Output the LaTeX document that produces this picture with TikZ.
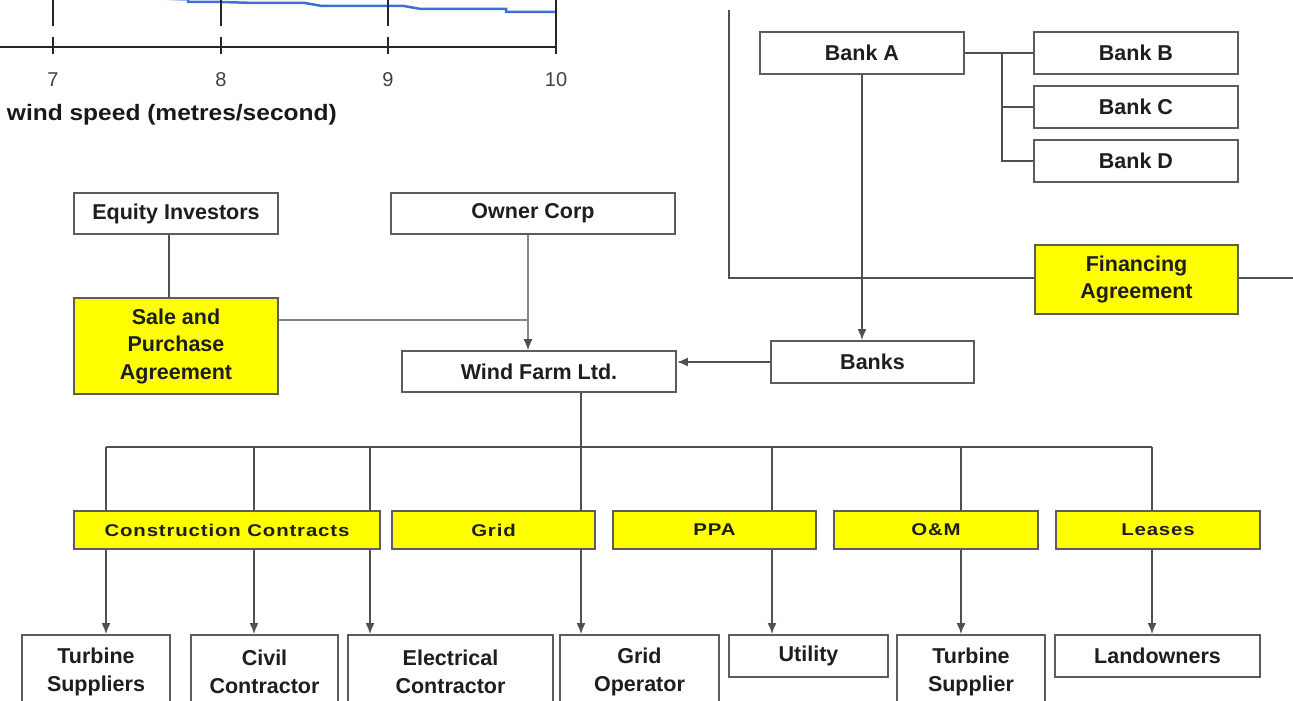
\documentclass[tikz,border=0pt]{standalone}
\usepackage{fontspec}
\setmainfont{Liberation Sans}
\newfontfamily\widesans[FakeStretch=1.2,LetterSpace=5]{Liberation Sans}
\newfontfamily\stretchsans[FakeStretch=1.1]{Liberation Sans}
\usetikzlibrary{arrows.meta}
\definecolor{ln}{HTML}{505050}
\definecolor{bd}{HTML}{5C5C5C}
\definecolor{yel}{HTML}{FFFF00}
\definecolor{txt}{HTML}{1E1E1E}
\definecolor{crv}{HTML}{3E6FD6}
\begin{document}
\begin{tikzpicture}[x=1pt,y=-1pt,
  box/.style={draw=bd, line width=1.8pt, fill=white, inner sep=0pt, text=txt,
    font=\fontsize{21.5}{27.5}\selectfont\bfseries, align=center},
  ybox/.style={box, fill=yel},
  sbox/.style={draw=bd, line width=1.8pt, fill=yel, inner sep=0pt, text=txt,
    font=\widesans\fontsize{17}{21}\selectfont\bfseries, align=center},
  con/.style={draw=ln, line width=1.8pt},
  thincon/.style={draw=ln!70, line width=1.1pt},
  arr/.style={con, -{Latex[length=11pt,width=9pt]}},
  thinarr/.style={thincon, -{Latex[length=11pt,width=9pt,color=ln]}},
  axis/.style={draw=black!85, line width=1.8pt},
  ticklbl/.style={text=black!75, font=\fontsize{20}{24}\selectfont}
]
\useasboundingbox (0,0) rectangle (1293,701);

% ---------- chart fragment ----------
\draw[crv!45, line width=2.5pt] (150,-2) -- (188,0);
\draw[crv, line width=2.5pt] (188,0) -- (188,2) -- (222,2) -- (255,3) -- (305,3) -- (322,6) -- (404,6) -- (421,9) -- (506,9) -- (506,12) -- (556,12);
\coordinate (ax0) at (0,47);
\coordinate (ax1) at (556,47);
\draw[axis] (ax0) -- (ax1);
\draw[axis] (556,0) -- (ax1);
\foreach \x in {53,221,388} { \draw[axis] (\x,0) -- (\x,26); }
\foreach \x in {53,221,388,556} { \draw[axis] (\x,37) -- (\x,54); }
\node[ticklbl] (t7) at (53,80) {7};
\node[ticklbl] (t8) at (221,80) {8};
\node[ticklbl] (t9) at (388,80) {9};
\node[ticklbl] (t10) at (556,80) {10};
\node[anchor=east, text=black!90, font=\stretchsans\fontsize{22.3}{27}\selectfont\bfseries, inner sep=0pt] (axl) at (337,115) {wind speed (metres/second)};

% ---------- nodes ----------
\node[box, minimum width=204pt, minimum height=42pt] (bankA) at (862,53) {Bank A};
\node[box, minimum width=204pt, minimum height=42pt] (bankB) at (1136,53) {Bank B};
\node[box, minimum width=204pt, minimum height=42pt] (bankC) at (1136,107) {Bank C};
\node[box, minimum width=204pt, minimum height=42pt] (bankD) at (1136,161) {Bank D};
\node[ybox, minimum width=203pt, minimum height=69pt] (fin) at (1136.5,279.5) {Financing\\Agreement};
\node[box, minimum width=203pt, minimum height=42pt] (banks) at (872.5,362) {Banks};

\node[box, minimum width=204pt, minimum height=41pt] (equity) at (176,213.5) {Equity Investors};
\node[box, minimum width=284pt, minimum height=41pt] (owner) at (533,213.5) {Owner Corp};
\node[ybox, minimum width=204pt, minimum height=96pt] (spa) at (176,346) {Sale and\\Purchase\\Agreement};
\node[box, minimum width=274pt, minimum height=41pt] (wf) at (539,371.5) {Wind Farm Ltd.};

\node[box, minimum width=148pt, minimum height=74pt] (ts) at (96,672) {Turbine\\Suppliers};
\node[box, minimum width=147pt, minimum height=74pt] (civil) at (264.5,672) {Civil\\Contractor};
\node[box, minimum width=205pt, minimum height=74pt] (elec) at (450.5,672) {Electrical\\Contractor};
\node[box, minimum width=159pt, minimum height=74pt] (gop) at (639.5,672) {Grid\\Operator};
\node[box, minimum width=159pt, minimum height=42pt] (util) at (808.5,656) {Utility};
\node[box, minimum width=148pt, minimum height=74pt] (tsup) at (971,672) {Turbine\\Supplier};
\node[box, minimum width=205pt, minimum height=42pt] (land) at (1157.5,656) {Landowners};

% ---------- connectors: banks ----------
\coordinate (bj) at (1002,53);
\draw[con] (bankA.east) -- (bankB.west);
\draw[con] (bj) |- (bankC.west);
\draw[con] (bj) |- (bankD.west);
\coordinate (ftop) at (729,10);
\coordinate (fend) at (1300,278);
\draw[con] (ftop) |- (fin.west |- fend);
\draw[con] (fin.east |- fend) -- (fend);
\draw[arr] (bankA.south) -- (bankA.south |- banks.north);
\draw[arr] (banks.west) -- (banks.west -| wf.east);

% ---------- connectors: owners ----------
\draw[con] ([xshift=-7pt]equity.south) -- ([xshift=-7pt]spa.north);
\coordinate (oc) at ([xshift=-5pt]owner.south);
\draw[thinarr] (oc) -- (oc |- wf.north);
\draw[thincon] ([yshift=26pt]spa.east) -- ([yshift=26pt]spa.east -| oc);

% ---------- connectors: contracts ----------
\coordinate (wfb) at ([xshift=42pt]wf.south);
\coordinate (d1) at (106,447);
\coordinate (d2) at (254,447);
\coordinate (d3) at (370,447);
\coordinate (d4) at (772,447);
\coordinate (d5) at (961,447);
\coordinate (d6) at (1152,447);
\draw[con] (d1) -- (d6);
\draw[arr] (wfb) -- (wfb |- gop.north);
\draw[arr] (d1) -- (d1 |- ts.north);
\draw[arr] (d2) -- (d2 |- civil.north);
\draw[arr] (d3) -- (d3 |- elec.north);
\draw[arr] (d4) -- (d4 |- util.north);
\draw[arr] (d5) -- (d5 |- tsup.north);
\draw[arr] (d6) -- (d6 |- land.north);

% ---------- contract boxes (on top of lines) ----------
\node[sbox, minimum width=306pt, minimum height=38pt] (cc) at (227,530) {Construction Contracts};
\node[sbox, minimum width=203pt, minimum height=38pt] (grid) at (493.5,530) {Grid};
\node[sbox, minimum width=203pt, minimum height=38pt] (ppa) at (714.5,530) {PPA};
\node[sbox, minimum width=204pt, minimum height=38pt] (om) at (936,530) {O\&M};
\node[sbox, minimum width=204pt, minimum height=38pt] (leases) at (1158,530) {Leases};
\end{tikzpicture}
\end{document}
